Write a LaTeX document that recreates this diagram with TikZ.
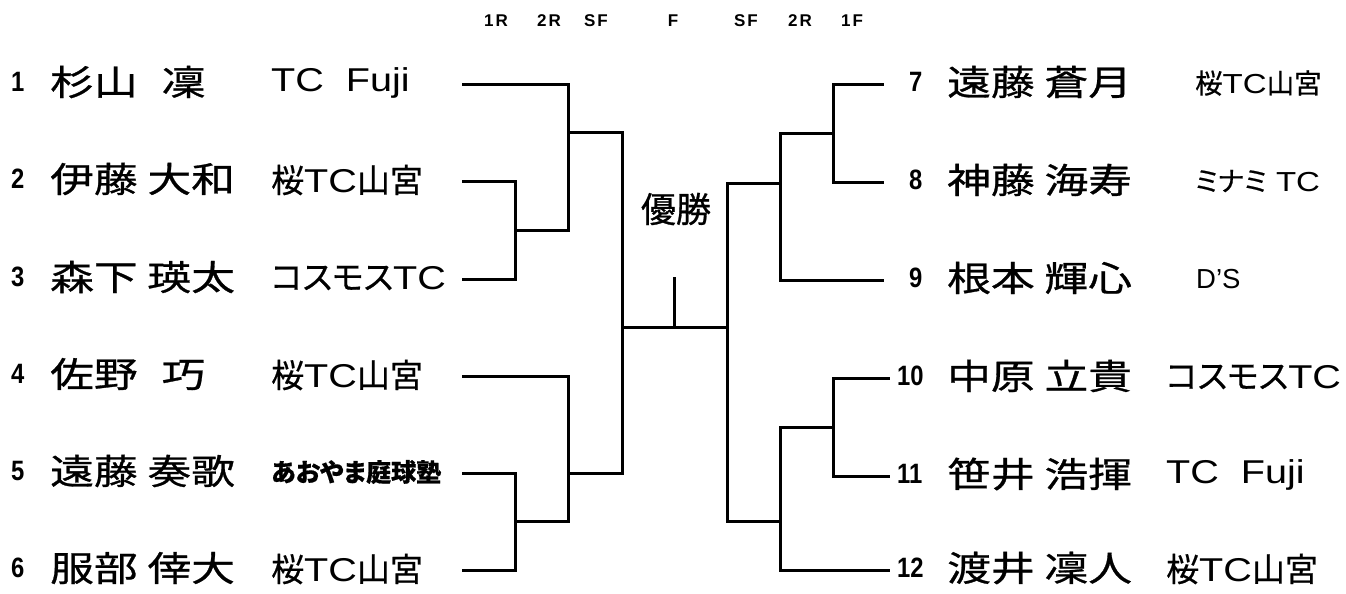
\documentclass[tikz,border=0pt]{standalone}
\usepackage{fontspec}
\setmainfont{Liberation Sans}
\newfontfamily\namefont[FakeStretch=1.25,FakeBold=0.8]{Noto Sans CJK JP}
\newfontfamily\jpfont[FakeBold=0.8]{Noto Sans CJK JP}
\newfontfamily\clubfont[RawFeature=+palt,FakeBold=0.6]{Noto Sans CJK JP}
\newfontfamily\latfont[FakeStretch=1.2]{Liberation Sans}
\newfontfamily\numfont[FakeStretch=0.85]{Liberation Sans Bold}
\newfontfamily\headfont[LetterSpace=12]{Liberation Sans Bold}
\usetikzlibrary{positioning}

\newcommand\lat[1]{{\latfont #1}}
\newcommand\smallclub{\fontsize{27.5}{30}\selectfont}

\tikzset{
  bracket/.style={line width=3pt, line cap=rect, line join=miter},
  seed/.style={inner sep=0pt, anchor=west, font=\numfont\fontsize{28}{30}\selectfont},
  player/.style={inner sep=0pt, anchor=west, font=\namefont\fontsize{35}{38}\selectfont},
  team/.style={inner sep=0pt, anchor=west, font=\clubfont\fontsize{33}{36}\selectfont},
  roundlbl/.style={inner sep=0pt, font=\headfont\fontsize{17}{19}\selectfont},
}

\begin{document}
\begin{tikzpicture}[x=1pt,y=-1pt]
\useasboundingbox (0,0) rectangle (1346,594);

% round labels
\foreach \lb/\x in {1R/496, 2R/549, SF/596, F/673}
  \node[roundlbl] (h\lb) at (\x,21) {\lb};
\node[roundlbl] (hSFr) at (746,21) {SF};
\node[roundlbl] (h2Rr) at (800,21) {2R};
\node[roundlbl] (h1F) at (852,21) {1F};

% left half
\foreach \i/\y/\nm/\tm in {
  1/84/{杉山\hspace{24pt}凜}/{\lat{TC\ \ Fuji}},
  2/181/{伊藤 大和}/{桜\lat{TC}山宮},
  3/279/{森下 瑛太}/{コスモス\lat{TC}},
  4/376/{佐野\hspace{24pt}巧}/{桜\lat{TC}山宮},
  5/473/{遠藤 奏歌}/{{\fontsize{25}{28}\selectfont\bfseries あおやま庭球塾}},
  6/570/{服部 倖大}/{桜\lat{TC}山宮}}
{
  \node[seed] (n\i) at (11,\y-2) {\i};
  \node[player] (p\i) at (50,\y-2) {\nm};
  \node[team] (t\i) at (271,\y-1) {\tm};
  \coordinate (L\i) at (463,\y);
}

% right half
\foreach \i/\y/\nx/\tx/\ex/\nm/\tm in {
  7/84/909/1195/882/{遠藤 蒼月}/{{\smallclub 桜\lat{TC}山宮}},
  8/182/909/1195/882/{神藤 海寿}/{{\smallclub ミナミ\lat{\ TC}}},
  9/280/909/1196/882/{根本 輝心}/{{\smallclub\normalfont D’S}},
  10/378/897/1166/888/{中原 立貴}/{コスモス\lat{TC}},
  11/476/897/1166/888/{笹井 浩揮}/{\lat{TC\ \ Fuji}},
  12/570/897/1166/888/{渡井 凜人}/{桜\lat{TC}山宮}}
{
  \node[seed] (n\i) at (\nx,\y-2) {\i};
  \node[player] (p\i) at (947,\y-2) {\nm};
  \node[team] (t\i) at (\tx,\y-1) {\tm};
  \coordinate (L\i) at (\ex,\y);
}

\node[inner sep=0pt, font=\jpfont\fontsize{35}{38}\selectfont] (champ) at (676,209) {優勝};

% joins
\coordinate (m23) at (515,230);
\coordinate (q23) at (568,230);
\coordinate (s1in) at (568,132);
\coordinate (s1) at (622,132);
\coordinate (m56) at (515,521);
\coordinate (q56) at (568,521);
\coordinate (s2in) at (568,473);
\coordinate (s2) at (622,473);
\coordinate (fL) at (622,327);
\coordinate (fR) at (727,327);
\coordinate (wtop) at (674,278);
\coordinate (wbot) at (674,327);
\coordinate (m78) at (833,133);
\coordinate (q78) at (780,133);
\coordinate (u1in) at (780,183);
\coordinate (u1) at (727,183);
\coordinate (m1011) at (833,427);
\coordinate (q1011) at (780,427);
\coordinate (u2in) at (780,521);
\coordinate (u2) at (727,521);

\begin{scope}[bracket]
\draw (L2) -| (m23) |- (L3);
\draw (m23) -- (q23);
\draw (L1) -| (q23);
\draw (s1in) -- (s1);
\draw (L5) -| (m56) |- (L6);
\draw (m56) -- (q56);
\draw (L4) -| (q56);
\draw (s2in) -- (s2);
\draw (s1) -- (s2);
\draw (fL) -- (fR);
\draw (wtop) -- (wbot);
\draw (L7) -| (m78) |- (L8);
\draw (m78) -- (q78);
\draw (L9) -| (q78);
\draw (u1in) -- (u1);
\draw (L10) -| (m1011) |- (L11);
\draw (m1011) -- (q1011);
\draw (L12) -| (q1011);
\draw (u2in) -- (u2);
\draw (u1) -- (u2);
\end{scope}
\end{tikzpicture}
\end{document}
